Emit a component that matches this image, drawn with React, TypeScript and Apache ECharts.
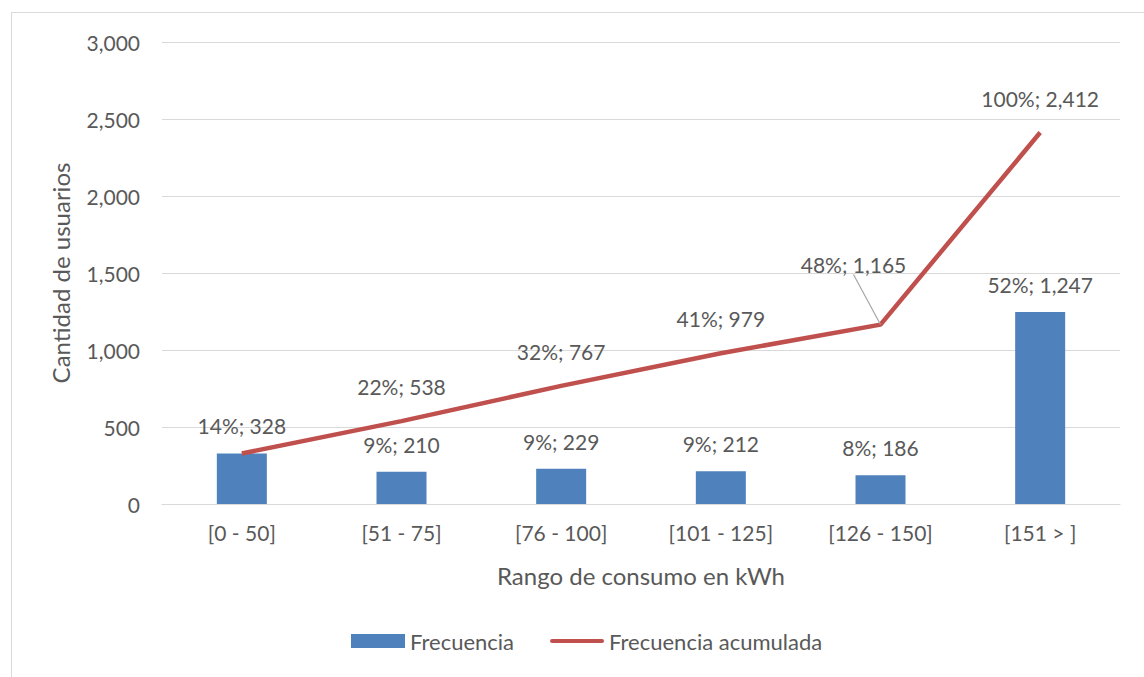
import React, { useEffect, useRef } from "react";
import * as echarts from "echarts";

const categories = ["[0 - 50]", "[51 - 75]", "[76 - 100]", "[101 - 125]", "[126 - 150]", "[151 > ]"];
const frecuencia = [328, 210, 229, 212, 186, 1247];
const frecuenciaPct = ["14%", "9%", "9%", "9%", "8%", "52%"];
const acumulada = [328, 538, 767, 979, 1165, 2412];
const acumuladaPct = ["14%", "22%", "32%", "41%", "48%", "100%"];
const yTicks = [0, 500, 1000, 1500, 2000, 2500, 3000];

const FONT = "Lato, 'Open Sans', sans-serif";
const TXT = "#595959";
const fmt = (v: number) => v.toLocaleString("en-US");

export default function App() {
  const ref = useRef<HTMLDivElement>(null);
  useEffect(() => {
    if (!ref.current) return;
    const chart = echarts.init(ref.current, null, { renderer: "svg" });
    const lineData = acumulada.map((v, i) => {
      if (i === 0) return { value: v, label: { show: false } };
      if (i === 4) return { value: v, labelLine: { show: true } };
      return { value: v };
    });
    chart.setOption({
      animation: false,
      backgroundColor: "#ffffff",
      textStyle: { fontFamily: FONT, color: TXT },
      graphic: [
        {
          type: "rect",
          shape: { x: 11.5, y: 12.5, width: 1200, height: 700 },
          style: { fill: "none", stroke: "#D9D9D9", lineWidth: 1 },
          silent: true,
          z: -10,
        },
      ],
      grid: { left: 162, right: 24, top: 42, bottom: 173, containLabel: false },
      legend: {
        bottom: 20,
        left: 346,
        itemWidth: 54,
        itemHeight: 14,
        itemGap: 36,
        textStyle: { fontFamily: FONT, fontSize: 22, color: TXT },
        data: [
          { name: "Frecuencia", icon: "rect" },
          {
            name: "Frecuencia acumulada",
            icon: "path://M2,0 H52 A2,2 0 0 1 52,4 H2 A2,2 0 0 1 2,0 Z",
          },
        ],
      },
      xAxis: {
        type: "category",
        data: categories,
        name: "Rango de consumo en kWh",
        nameLocation: "middle",
        nameGap: 59,
        nameTextStyle: { fontFamily: FONT, fontSize: 24, color: TXT },
        axisLine: { lineStyle: { color: "#D9D9D9" } },
        axisTick: { show: false },
        axisLabel: { fontFamily: FONT, fontSize: 21, color: TXT, margin: 18 },
      },
      yAxis: {
        type: "value",
        min: yTicks[0],
        max: yTicks[yTicks.length - 1],
        interval: 500,
        name: "Cantidad de usuarios",
        nameLocation: "middle",
        nameGap: 90,
        nameTextStyle: { fontFamily: FONT, fontSize: 24, color: TXT },
        axisLine: { show: false },
        axisTick: { show: false },
        splitLine: { lineStyle: { color: "#D9D9D9" } },
        axisLabel: {
          fontFamily: FONT,
          fontSize: 21,
          color: TXT,
          margin: 22,
          formatter: (v: number) => fmt(v),
        },
      },
      series: [
        {
          name: "Frecuencia",
          type: "bar",
          data: frecuencia,
          barWidth: 50,
          itemStyle: { color: "#4F81BD" },
          label: {
            show: true,
            position: "top",
            distance: 17,
            fontFamily: FONT,
            fontSize: 21,
            color: TXT,
            formatter: (p: any) => `${frecuenciaPct[p.dataIndex]}; ${fmt(p.value)}`,
          },
          z: 2,
        },
        {
          name: "Frecuencia acumulada",
          type: "line",
          data: lineData,
          symbol: "circle",
          symbolSize: 0.1,
          showSymbol: true,
          lineStyle: { color: "#C0504D", width: 4.5 },
          itemStyle: { color: "#C0504D" },
          label: {
            show: true,
            position: "top",
            distance: 24,
            fontFamily: FONT,
            fontSize: 21,
            color: TXT,
            formatter: (p: any) => `${acumuladaPct[p.dataIndex]}; ${fmt(p.value)}`,
          },
          labelLine: { show: false, lineStyle: { color: "#A6A6A6", width: 1.2 } },
          labelLayout: (p: any) => (p.dataIndex === 4 ? { dx: -27, dy: -26 } : {}),
          z: 3,
        },
      ],
    });
    return () => chart.dispose();
  }, []);
  return (
    <div
      ref={ref}
      style={{ position: "fixed", left: 0, top: 0, width: 1144, height: 677 }}
    />
  );
}
